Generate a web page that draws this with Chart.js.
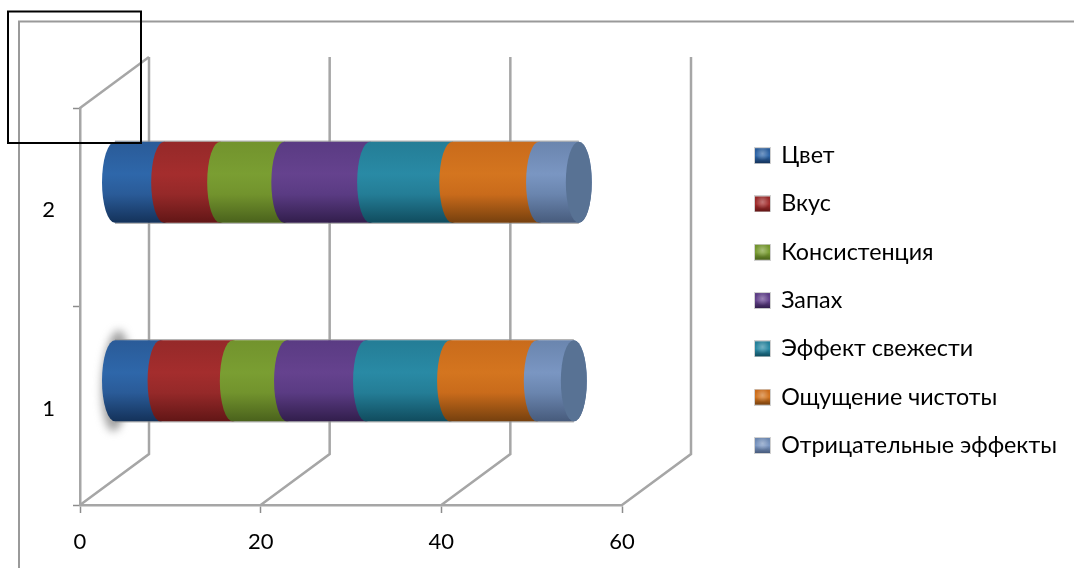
<!DOCTYPE html>
<html>
<head>
<meta charset="utf-8">
<style>
  html, body { margin: 0; padding: 0; background: #fff; }
  canvas { display: block; }
</style>
<script src="https://cdn.jsdelivr.net/npm/chart.js@4/dist/chart.umd.js"></script>
</head>
<body>
<canvas id="myChart" width="1074" height="568"></canvas>
<script>
const categories = ['1', '2'];
const seriesNames = ['Цвет', 'Вкус', 'Консистенция', 'Запах', 'Эффект свежести', 'Ощущение чистоты', 'Отрицательные эффекты'];

const colorValues = [5.1, 5.5];
const tasteValues = [8.0, 6.2];
const textureValues = [6.0, 7.1];
const smellValues = [8.75, 9.5];
const freshValues = [9.3, 9.1];
const cleanValues = [9.6, 9.6];
const negativeValues = [4.1, 4.4];
const seriesValues = [colorValues, tasteValues, textureValues, smellValues, freshValues, cleanValues, negativeValues];

// top, middle, bottom of each cylinder
const shades = [
  ['#2a5b98', '#2e67aa', '#14325a'],
  ['#952929', '#a42d2d', '#621616'],
  ['#72932d', '#7a9e32', '#4a621c'],
  ['#5a3b83', '#65428e', '#321e4c'],
  ['#247d96', '#298aa5', '#104c5e'],
  ['#c96b1b', '#d4751f', '#76400e'],
  ['#6a85ae', '#7a96c2', '#475b7c']
];
const capColor = '#587294';
const gridColor = '#a6a6a6';
const fontName = 'Lato, "Open Sans", sans-serif';

const depthX = 69, depthY = 51;
const capRx = 13;
const legendGap = 25;

function makeSwatch(c) {
  const size = 17;
  const cv = document.createElement('canvas');
  cv.width = size; cv.height = size;
  const g = cv.getContext('2d');
  g.fillStyle = '#d0d0d0';
  g.fillRect(0, 0, size, size);
  const grad = g.createLinearGradient(0, 1, 0, size - 1);
  grad.addColorStop(0, c[0]);
  grad.addColorStop(0.5, c[1]);
  grad.addColorStop(1, c[2]);
  g.fillStyle = grad;
  g.fillRect(1, 1, size - 2, size - 2);
  const shine = g.createRadialGradient(size / 2, size / 2 - 2, 0, size / 2, size / 2 - 2, 7);
  shine.addColorStop(0, 'rgba(255,255,255,0.35)');
  shine.addColorStop(1, 'rgba(255,255,255,0)');
  g.fillStyle = shine;
  g.fillRect(1, 1, size - 2, size - 2);
  return cv;
}
const swatches = shades.map(makeSwatch);

function barGradient(ctx, top, bottom, c) {
  const grad = ctx.createLinearGradient(0, top, 0, bottom);
  grad.addColorStop(0, c[0]);
  grad.addColorStop(0.4, c[1]);
  grad.addColorStop(0.65, c[0]);
  grad.addColorStop(1, c[2]);
  return grad;
}

const frame3d = {
  id: 'frame3d',
  afterLayout(chart) {
    // legend sits right of the plot, outside of the area the scales use
    const lg = chart.legend;
    const w = lg.width, h = lg.height;
    lg.left = 755.5 - legendGap; lg.top = 144 - legendGap;
    lg.right = lg.left + w; lg.bottom = lg.top + h;
  },
  beforeDraw(chart) {
    const ctx = chart.ctx;
    ctx.save();
    ctx.strokeStyle = '#9a9a9a';
    ctx.lineWidth = 2;
    ctx.beginPath();
    ctx.moveTo(19, 568);
    ctx.lineTo(19, 21.5);
    ctx.lineTo(1074, 21.5);
    ctx.stroke();
    ctx.restore();
  },
  beforeDatasetsDraw(chart) {
    const ctx = chart.ctx;
    const xs = chart.scales.x, area = chart.chartArea;

    // walls
    ctx.save();
    ctx.strokeStyle = gridColor;
    ctx.lineWidth = 2.5;
    xs.ticks.forEach(t => {
      const px = xs.getPixelForValue(t.value);
      ctx.beginPath();
      ctx.moveTo(px, area.bottom);
      ctx.lineTo(px + depthX, area.bottom - depthY);
      ctx.lineTo(px + depthX, area.top - depthY);
      ctx.stroke();
    });
    ctx.beginPath();
    ctx.moveTo(area.left, area.top);
    ctx.lineTo(area.left + depthX, area.top - depthY);
    ctx.stroke();
    ctx.restore();

    // cylinders, halfway into the depth
    ctx.save();
    ctx.translate(depthX / 2, -25);
    const metas = chart.getSortedVisibleDatasetMetas();
    const first = metas[0].data, last = metas[metas.length - 1].data;

    first.forEach((el, i) => {
      const top = el.y - el.height / 2, bot = el.y + el.height / 2;
      if (i === 0) {
        // soft smear behind the lower bar
        ctx.save();
        ctx.filter = 'blur(4px)';
        ctx.fillStyle = 'rgba(120,120,120,0.7)';
        ctx.beginPath();
        ctx.ellipse(el.base + 1, el.y, 14, el.height / 2 + 10, 0.06, 0, Math.PI * 2);
        ctx.fill();
        ctx.restore();
      }
      ctx.strokeStyle = 'rgba(150,150,150,0.7)';
      ctx.lineWidth = 1.5;
      ctx.beginPath();
      ctx.moveTo(el.base, top - 0.5);
      ctx.lineTo(last[i].x, top - 0.5);
      ctx.moveTo(el.base, bot + 0.5);
      ctx.lineTo(last[i].x, bot + 0.5);
      ctx.stroke();
    });

    metas.forEach((meta, s) => {
      meta.data.forEach(el => {
        const ry = el.height / 2, top = el.y - ry, bot = el.y + ry;
        ctx.fillStyle = barGradient(ctx, top, bot, shades[s]);
        ctx.beginPath();
        ctx.ellipse(el.base, el.y, capRx, ry, 0, Math.PI * 1.5, Math.PI * 0.5, true);
        ctx.lineTo(el.x, bot);
        ctx.ellipse(el.x, el.y, capRx, ry, 0, Math.PI * 0.5, Math.PI * 1.5, true);
        ctx.closePath();
        ctx.fill();
      });
    });

    last.forEach(el => {
      ctx.fillStyle = capColor;
      ctx.beginPath();
      ctx.ellipse(el.x, el.y, capRx, el.height / 2, 0, 0, Math.PI * 2);
      ctx.fill();
    });
    ctx.restore();
    return false;
  },
  afterDraw(chart) {
    const ctx = chart.ctx;
    ctx.save();
    ctx.strokeStyle = '#000';
    ctx.lineWidth = 2;
    ctx.strokeRect(8, 11.5, 133, 131.5);
    ctx.restore();
  }
};

const myChart = new Chart(document.getElementById('myChart'), {
  type: 'bar',
  data: {
    labels: categories,
    datasets: seriesNames.map((name, i) => ({
      label: name,
      data: seriesValues[i],
      backgroundColor: shades[i][1],
      barThickness: 81
    }))
  },
  options: {
    indexAxis: 'y',
    responsive: false,
    animation: false,
    layout: { padding: { left: 20, top: 108, right: 452, bottom: 0 } },
    scales: {
      x: {
        stacked: true,
        min: 0,
        max: 60,
        afterFit: s => { s.height = 63; },
        border: { color: gridColor, width: 2.5 },
        grid: { drawOnChartArea: false, color: '#8c8c8c', tickLength: 8, tickWidth: 1.5 },
        ticks: { stepSize: 20, color: '#000', padding: 16, maxRotation: 0, font: { family: fontName, size: 22 } }
      },
      y: {
        stacked: true,
        reverse: true,
        afterFit: s => { s.width = 60; },
        border: { color: gridColor, width: 2.5 },
        grid: { drawOnChartArea: false, color: '#8c8c8c', tickLength: 7, tickWidth: 1.5 },
        ticks: { color: '#000', padding: 18, labelOffset: 3, font: { family: fontName, size: 22 } }
      }
    },
    plugins: {
      tooltip: { enabled: false },
      legend: {
        position: 'chartArea',
        align: 'start',
        labels: {
          color: '#000',
          font: { family: fontName, size: 23.3 },
          boxWidth: 14,
          boxHeight: 14,
          padding: legendGap,
          usePointStyle: true,
          generateLabels: chart => Chart.defaults.plugins.legend.labels.generateLabels(chart)
            .map((it, i) => ({ ...it, pointStyle: swatches[i] }))
        }
      }
    }
  },
  plugins: [frame3d]
});
</script>
</body>
</html>
